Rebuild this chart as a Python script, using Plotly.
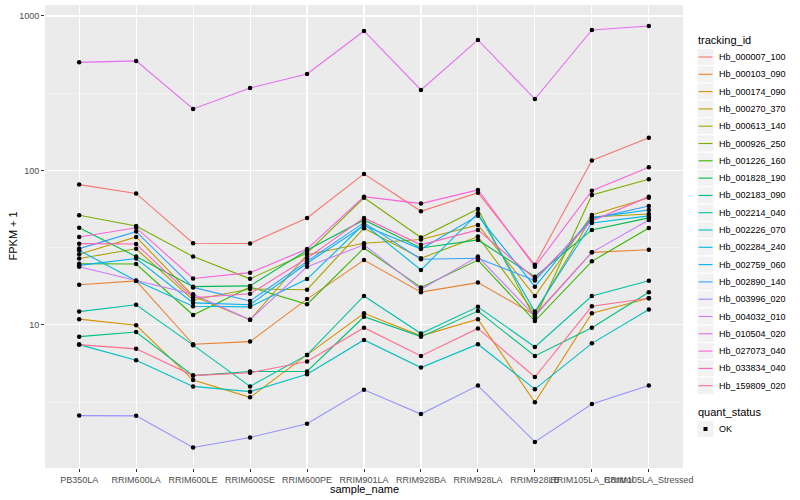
import plotly.graph_objects as go

samples = ["PB350LA", "RRIM600LA", "RRIM600LE", "RRIM600SE", "RRIM600PE", "RRIM901LA",
           "RRIM928BA", "RRIM928LA", "RRIM928LB", "RRIM105LA_Control", "RRIM105LA_Stressed"]

tracking_ids = ["Hb_000007_100", "Hb_000103_090", "Hb_000174_090", "Hb_000270_370", "Hb_000613_140",
                "Hb_000926_250", "Hb_001226_160", "Hb_001828_190", "Hb_002183_090", "Hb_002214_040",
                "Hb_002226_070", "Hb_002284_240", "Hb_002759_060", "Hb_002890_140", "Hb_003996_020",
                "Hb_004032_010", "Hb_010504_020", "Hb_027073_040", "Hb_033834_040", "Hb_159809_020"]

colors = ["#F8766D", "#EA8331", "#D89000", "#C09B00", "#A3A500", "#7CAE00", "#39B600", "#00BB4E",
          "#00BF7D", "#00C1A3", "#00BFC4", "#00BAE0", "#00B0F6", "#35A2FF", "#9590FF", "#C77CFF",
          "#E76BF3", "#FA62DB", "#FF62BC", "#FF6C91"]

fpkm_000007_100 = [81, 71, 33.8, 33.7, 49.3, 95, 54.4, 71.8, 24.5, 116, 163]
fpkm_000103_090 = [18.2, 19.3, 7.5, 7.8, 14.7, 26.3, 16.3, 18.8, 11.6, 29.5, 30.7]
fpkm_000174_090 = [10.9, 9.95, 4.4, 3.4, 6.4, 11.9, 8.5, 10.9, 3.16, 11.9, 14.9]
fpkm_000270_370 = [28.7, 37.1, 15.4, 10.8, 28.5, 33.8, 35.7, 44.4, 15.4, 51.5, 66.5]
fpkm_000613_140 = [26.9, 31.1, 14.5, 17.1, 16.9, 42.3, 27.0, 37.3, 11.9, 50.0, 52.3]
fpkm_000926_250 = [51.3, 43.7, 27.7, 19.9, 29.2, 66.5, 36.8, 56.3, 11.0, 69.4, 87.8]
fpkm_001226_160 = [24.9, 24.8, 11.6, 17.6, 13.6, 31.5, 17.5, 26.3, 10.6, 25.8, 42.4]
fpkm_001828_190 = [42.6, 27.7, 17.7, 17.9, 30.4, 47.8, 31.5, 35.5, 20.5, 41.2, 49.3]
fpkm_002183_090 = [8.4, 9.0, 4.7, 5.0, 5.0, 11.3, 8.4, 12.3, 6.3, 9.6, 16.3]
fpkm_002214_040 = [12.2, 13.5, 7.4, 4.0, 6.4, 15.4, 8.8, 13.1, 7.2, 15.4, 19.3]
fpkm_002226_070 = [7.46, 5.9, 4.0, 3.7, 4.8, 8.0, 5.3, 7.5, 3.84, 7.6, 12.6]
fpkm_002284_240 = [30.4, 19.3, 13.2, 13.1, 19.8, 45.0, 22.7, 52.8, 12.2, 45.7, 50.8]
fpkm_002759_060 = [24.3, 26.9, 13.9, 13.5, 25.1, 44.0, 31.0, 51.0, 17.7, 49.5, 55.5]
fpkm_002890_140 = [31.2, 40.2, 17.5, 14.3, 25.8, 46.0, 26.6, 27.0, 19.4, 48.6, 58.9]
fpkm_003996_020 = [2.59, 2.58, 1.61, 1.87, 2.29, 3.80, 2.65, 4.05, 1.75, 3.08, 4.05]
fpkm_004032_010 = [23.8, 19.3, 15.8, 10.8, 23.8, 33.0, 17.0, 27.7, 11.4, 29.5, 47.8]
fpkm_010504_020 = [501, 512, 250, 342, 421, 800, 332, 700, 290, 811, 861]
fpkm_027073_040 = [37.1, 42.6, 20.0, 21.8, 31.0, 67.7, 61, 74.8, 23.8, 74, 105]
fpkm_033834_040 = [33.6, 33.4, 15.0, 15.9, 27.0, 49.3, 33.0, 41.2, 19.9, 47.1, 67.7]
fpkm_159809_020 = [7.46, 7.0, 4.7, 4.9, 5.8, 9.6, 6.3, 9.5, 4.6, 13.2, 14.9]

series = [fpkm_000007_100, fpkm_000103_090, fpkm_000174_090, fpkm_000270_370, fpkm_000613_140,
          fpkm_000926_250, fpkm_001226_160, fpkm_001828_190, fpkm_002183_090, fpkm_002214_040,
          fpkm_002226_070, fpkm_002284_240, fpkm_002759_060, fpkm_002890_140, fpkm_003996_020,
          fpkm_004032_010, fpkm_010504_020, fpkm_027073_040, fpkm_033834_040, fpkm_159809_020]

y_ticks = [10, 100, 1000]
y_minor = [10 ** 0.5, 10 ** 1.5, 10 ** 2.5]

W, H = 800, 500
L, R, T, B = 45, 683, 5, 468
FONT = "Liberation Sans, Arial, sans-serif"


def px(x):
    return (x - L) / (R - L)


def py(y):
    return (B - y) / (B - T)


fig = go.Figure()
for name, col, vals in zip(tracking_ids, colors, series):
    fig.add_trace(go.Scatter(x=samples, y=vals, mode="lines", name=name,
                             line=dict(color=col, width=1.1), showlegend=False))

all_x, all_y = [], []
for vals in series:
    all_x += samples
    all_y += vals
fig.add_trace(go.Scatter(x=all_x, y=all_y, mode="markers", name="OK",
                         marker=dict(color="black", size=4.5, symbol="circle"), showlegend=False))

shapes = []
annotations = []

# legend: tracking_id
annotations.append(dict(x=px(696), y=py(40), xref="paper", yref="paper", text="tracking_id",
                        showarrow=False, xanchor="left", yanchor="middle",
                        font=dict(size=11, color="black", family=FONT)))
for i, (name, col) in enumerate(zip(tracking_ids, colors)):
    yc = 57 + 17.3 * i
    shapes.append(dict(type="rect", xref="paper", yref="paper", x0=px(697), x1=px(714),
                       y0=py(yc - 8.6), y1=py(yc + 8.6), fillcolor="#F2F2F2",
                       line=dict(color="white", width=1), layer="above"))
    shapes.append(dict(type="line", xref="paper", yref="paper", x0=px(698.5), x1=px(712.5),
                       y0=py(yc), y1=py(yc), line=dict(color=col, width=1.1), layer="above"))
    annotations.append(dict(x=px(717), y=py(yc), xref="paper", yref="paper", text=name,
                            showarrow=False, xanchor="left", yanchor="middle",
                            font=dict(size=9, color="black", family=FONT)))

# legend: quant_status
annotations.append(dict(x=px(696), y=py(412), xref="paper", yref="paper", text="quant_status",
                        showarrow=False, xanchor="left", yanchor="middle",
                        font=dict(size=11, color="black", family=FONT)))
shapes.append(dict(type="rect", xref="paper", yref="paper", x0=px(697), x1=px(714),
                   y0=py(429 - 8.6), y1=py(429 + 8.6), fillcolor="#F2F2F2",
                   line=dict(color="white", width=1), layer="above"))
shapes.append(dict(type="rect", xref="paper", yref="paper", x0=px(703.5), x1=px(707.5),
                   y0=py(427), y1=py(431), fillcolor="black", line=dict(width=0), layer="above"))
annotations.append(dict(x=px(717), y=py(429), xref="paper", yref="paper", text="OK",
                        showarrow=False, xanchor="left", yanchor="middle",
                        font=dict(size=9, color="black", family=FONT)))

# axis titles
annotations.append(dict(x=0.5, y=py(489), xref="paper", yref="paper", text="sample_name",
                        showarrow=False, xanchor="center", yanchor="middle",
                        font=dict(size=11, color="black", family=FONT)))
annotations.append(dict(x=px(12), y=0.5, xref="paper", yref="paper", text="FPKM + 1",
                        showarrow=False, xanchor="center", yanchor="middle", textangle=-90,
                        font=dict(size=11, color="black", family=FONT)))

fig.update_layout(
    width=W, height=H,
    margin=dict(l=L, r=W - R, t=T, b=H - B, pad=0),
    paper_bgcolor="white", plot_bgcolor="#EBEBEB",
    font=dict(family=FONT, size=9, color="#4D4D4D"),
    shapes=shapes, annotations=annotations,
    showlegend=False, hovermode=False,
    xaxis=dict(type="category", categoryorder="array", categoryarray=samples,
               range=[-0.6, len(samples) - 0.4], showgrid=True, gridcolor="white", gridwidth=1.1,
               zeroline=False, showline=False, ticks="outside", ticklen=3, tickcolor="#333333",
               tickwidth=1, tickangle=0, tickfont=dict(size=9, color="#4D4D4D", family=FONT)),
    yaxis=dict(type="log", range=[0.074, 3.071], tickmode="array", tickvals=y_ticks,
               ticktext=[str(v) for v in y_ticks], showgrid=True, gridcolor="white", gridwidth=1.1,
               zeroline=False, showline=False, ticks="outside", ticklen=3, tickcolor="#333333",
               tickwidth=1, tickfont=dict(size=9, color="#4D4D4D", family=FONT),
               minor=dict(tickmode="array", tickvals=y_minor, showgrid=True, gridcolor="#F7F7F7",
                          gridwidth=0.6, ticklen=0)),
)

fig.write_html("out.html", config={"displayModeBar": False, "staticPlot": True},
               post_script="document.body.style.margin='0';document.body.style.overflow='hidden';")
